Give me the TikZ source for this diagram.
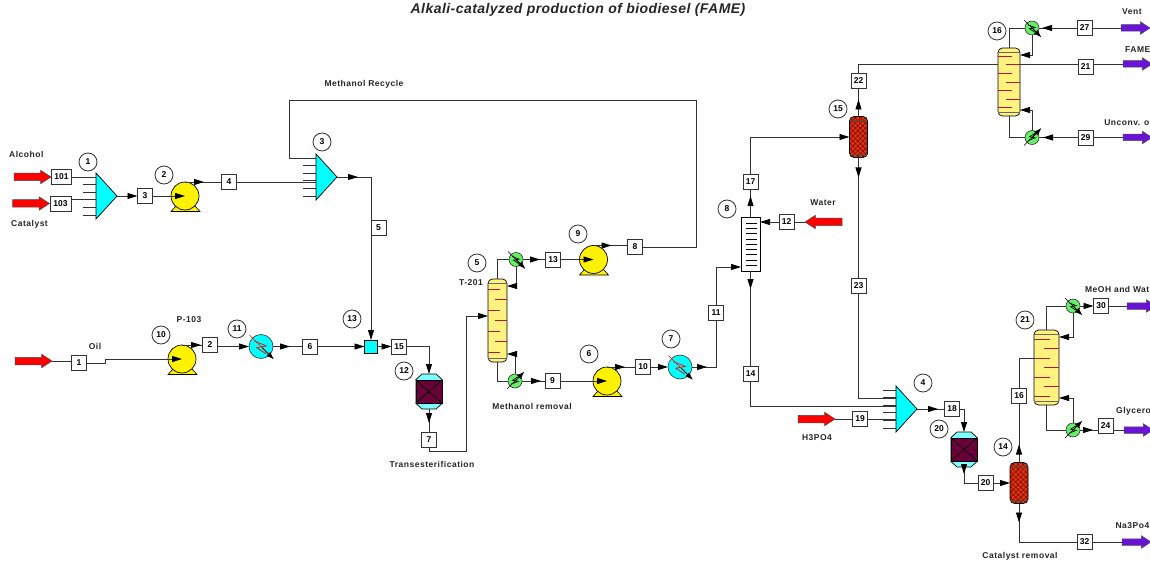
\documentclass[tikz,border=0pt]{standalone}
\usepackage{fontspec}
\setmainfont{Liberation Sans}
\usetikzlibrary{positioning,arrows.meta,shapes.geometric,shapes.arrows,patterns.meta,decorations.markings}

\definecolor{pipegray}{HTML}{333333}
\definecolor{mixcyan}{HTML}{00FFFF}
\definecolor{pumpyellow}{HTML}{FFF200}
\definecolor{towyellow}{HTML}{FFF27F}
\definecolor{hxgreen}{HTML}{66EE66}
\definecolor{rctmaroon}{HTML}{6A003A}
\definecolor{rctcyan}{HTML}{80FFFF}
\definecolor{prodpurple}{HTML}{6A12D8}
\definecolor{packred}{HTML}{D8380A}
\definecolor{trayred}{HTML}{A81E40}

\tikzset{
  pipe/.style={draw=pipegray, line width=0.9pt, >={Triangle[length=10pt,width=6pt,color=black]}},
  tipat/.style={postaction={decorate}, decoration={markings, mark=at position #1 with {\arrow{Triangle[length=10pt,width=6pt,color=black]}}}},
  stream/.style={draw=pipegray, fill=white, line width=0.9pt, minimum size=15pt, inner sep=0pt, outer sep=0pt, font=\bfseries\fontsize{8.5}{10}\selectfont},
  unitno/.style={circle, draw=pipegray, fill=white, line width=0.8pt, minimum size=18pt, inner sep=0pt, font=\bfseries\fontsize{8.5}{10}\selectfont},
  lab/.style={inner sep=0pt, text=black!85, font=\bfseries\fontsize{8.5}{10}\selectfont\addfontfeatures{LetterSpace=6}},
  feedarrow/.style={single arrow, anchor=tip, draw=black!70, fill=red, line width=0.5pt, minimum height=37pt, inner ysep=3.5pt, inner xsep=0pt, single arrow head extend=3pt, single arrow tip angle=66, outer sep=0pt},
  prodarrow/.style={single arrow, anchor=tail, draw=black!70, fill=prodpurple, line width=0.5pt, minimum height=29pt, inner ysep=3pt, inner xsep=0pt, single arrow head extend=3pt, single arrow tip angle=66, outer sep=0pt},
  mixbody/.style={isosceles triangle, isosceles triangle apex angle=95, isosceles triangle stretches, draw=black, fill=mixcyan, line width=0.7pt, minimum width=46pt, minimum height=21pt, inner sep=0pt, outer sep=0pt},
  pumpbody/.style={circle, draw=black, fill=pumpyellow, line width=0.7pt, minimum size=28pt, inner sep=0pt, outer sep=0pt},
  hxbody/.style={circle, draw=black!80, line width=0.6pt, inner sep=0pt, outer sep=0pt},
  towbody/.style={rectangle, rounded corners=4.5pt, draw=black, line width=0.7pt, inner sep=0pt, outer sep=0pt},
}

% mixer: name, apex x, y
\newcommand{\mixerunit}[3]{
  \foreach \dy in {-19,-12,-4,3,11,19}
    \draw[draw=pipegray, line width=0.7pt] (#2-34,#3+\dy) -- (#2-21,#3+\dy);
  \node[mixbody, anchor=apex] (#1) at (#2,#3) {};
}
% pump: name, x, y
\newcommand{\pumpunit}[3]{
  \draw[fill=pumpyellow, line width=0.6pt] (#2-14,#3+15.5) -- (#2+15,#3+15.5) -- (#2+10,#3+10) -- (#2-9,#3+10) -- cycle;
  \node[pumpbody] (#1) at (#2,#3) {};
}
% exchanger: name, x, y, fill, line colour, yscale, radius
\newcommand{\hxunit}[7]{
  \node[hxbody, fill=#4, minimum size=2*#7 pt] (#1) at (#2,#3) {};
  \begin{scope}[shift={(#2,#3)}, yscale=#6]
    \draw[#5, line width=0.7pt] (-0.55*#7,-0.45*#7) -- (0.45*#7,-0.05*#7) -- (-0.35*#7,0.1*#7) -- (0.4*#7,0.6*#7);
    \draw[#5, line width=0.6pt] (-0.7*#7-3,-0.7*#7-3) -- (0.7*#7+4,0.7*#7+4);
    \draw[black, line width=0.7pt, -{Triangle[length=7pt,width=5pt]}] (0.1*#7,0.1*#7) -- (0.7*#7+4,0.7*#7+4);
  \end{scope}
}
% tray column: name, x, y, width, height
\newcommand{\towerunit}[5]{
  \node[towbody, fill=towyellow, minimum width=#4 pt, minimum height=#5 pt] (#1) at (#2,#3) {};
  \draw[black!60, line width=0.5pt] (#2-#4/2,#3-#5/2+4) -- (#2+#4/2,#3-#5/2+4);
  \draw[black!60, line width=0.5pt] (#2-#4/2,#3+#5/2-4) -- (#2+#4/2,#3+#5/2-4);
  \foreach \i in {0,2,4,6}
    \draw[trayred, line width=0.8pt] (#2-#4/2,#3-0.38*#5+\i*0.1265*#5) -- (#2+0.13*#4,#3-0.38*#5+\i*0.1265*#5);
  \foreach \i in {1,3,5}
    \draw[trayred, line width=0.8pt] (#2-0.12*#4,#3-0.38*#5+\i*0.1265*#5) -- (#2+#4/2,#3-0.38*#5+\i*0.1265*#5);
}
% packed vessel: name, x, y
\newcommand{\packunit}[3]{
  \node[towbody, preaction={fill=packred}, pattern={Hatch[angle=45,distance=3.6pt,line width=0.6pt]}, pattern color=red!55!black, minimum width=18pt, minimum height=41pt] (#1) at (#2,#3) {};
  \draw[black!70, line width=0.5pt] (#2-9,#3-17) -- (#2+9,#3-17);
  \draw[black!70, line width=0.5pt] (#2-9,#3+17) -- (#2+9,#3+17);
}
% reactor: name, x, y
\newcommand{\reactorunit}[3]{
  \draw[fill=rctcyan, line width=0.7pt] (#2-13,#3-12) -- (#2-7,#3-17.5) -- (#2+7,#3-17.5) -- (#2+13,#3-12) -- (#2+13,#3+12) -- (#2+7,#3+17.5) -- (#2-7,#3+17.5) -- (#2-13,#3+12) -- cycle;
  \node[rectangle, minimum width=26pt, minimum height=35pt, inner sep=0pt, outer sep=0pt] (#1) at (#2,#3) {};
  \node[rectangle, draw=black, fill=rctmaroon, line width=0.7pt, minimum width=26pt, minimum height=23pt, inner sep=0pt] (#1in) at (#2,#3) {};
  \draw[black, line width=0.7pt] (#1in.north west) -- (#1in.south east);
  \draw[black, line width=0.7pt] (#1in.north east) -- (#1in.south west);
}

\begin{document}
\begin{tikzpicture}[x=1pt, y=-1pt]
    \clip (0,0) rectangle (1150,561);
    \useasboundingbox (0,0) rectangle (1150,561);

    \node[lab, anchor=base, font=\bfseries\itshape\fontsize{14}{16}\selectfont\addfontfeatures{LetterSpace=3.2}] (title) at (578,13.5) {Alkali-catalyzed production of biodiesel (FAME)};

    % equipment
    \mixerunit{mix1}{117}{196}
    \mixerunit{mix3}{337}{177}
    \mixerunit{mix4}{917}{409}
    \pumpunit{pump2}{185}{196}
    \pumpunit{pump10}{182}{359}
    \pumpunit{pump9}{593.5}{259.5}
    \pumpunit{pump6}{607}{381}
    \hxunit{hx11}{261}{346.5}{mixcyan}{red}{1}{12}
    \hxunit{hx7}{680}{367}{mixcyan}{red}{1}{12}
    \hxunit{cond5}{516}{259.5}{hxgreen}{black}{1}{7}
    \hxunit{reb5}{515}{381}{hxgreen}{black}{-1}{7}
    \hxunit{cond16}{1032}{28}{hxgreen}{black}{1}{7}
    \hxunit{reb16}{1032}{137.5}{hxgreen}{black}{-1}{7}
    \hxunit{cond21}{1073}{306}{hxgreen}{black}{1}{7}
    \hxunit{reb21}{1073}{430}{hxgreen}{black}{-1}{7}
    \towerunit{tow5}{497.5}{320.5}{19}{83}
    \towerunit{tow16}{1009}{82}{22}{68}
    \towerunit{tow21}{1046.5}{367.5}{25}{75}
    \packunit{pack15}{858.5}{137}
    \packunit{pack14}{1019}{483}
    \reactorunit{rct12}{429}{391.5}
    \reactorunit{rct20}{964}{449.5}
    \node[rectangle, draw=black, fill=mixcyan, line width=0.7pt, minimum size=13pt, inner sep=0pt, outer sep=0pt] (msq) at (371,346.5) {};
    \node[rectangle, draw=black, fill=white, line width=0.7pt, minimum width=19pt, minimum height=54pt, inner sep=0pt, outer sep=0pt] (wash8) at (750.5,244) {};
    \foreach \ty in {223,228,233.5,239,244,249,254.5,260,265}
      \draw[black, line width=0.7pt] (746,\ty) -- (757,\ty);

    % feeds and products
    \node[feedarrow] (fAlc) at (51,177) {};
    \node[feedarrow] (fCat) at (49.5,203.5) {};
    \node[feedarrow] (fOil) at (52,361) {};
    \node[feedarrow] (fAcid) at (835,419) {};
    \node[feedarrow, shape border rotate=180] (fWat) at (805,222) {};
    \node[prodarrow] (pVent) at (1121,28) {};
    \node[prodarrow] (pFame) at (1123,64) {};
    \node[prodarrow] (pOil) at (1123,137.5) {};
    \node[prodarrow] (pMeoh) at (1127,306) {};
    \node[prodarrow] (pGly) at (1124,430) {};
    \node[prodarrow] (pSalt) at (1122,542) {};

    % stream tags
    \node[stream, minimum width=20pt] (s101) at (61.5,177) {101};
    \node[stream, minimum width=21pt] (s103) at (60.5,203.5) {103};
    \node[stream] (s3) at (145,196) {3};
    \node[stream] (s4) at (229,182) {4};
    \node[stream] (s5) at (378.5,228) {5};
    \node[stream] (s1) at (79,363) {1};
    \node[stream] (s2) at (210,345) {2};
    \node[stream] (s6) at (310,346.5) {6};
    \node[stream] (s15) at (399,346.5) {15};
    \node[stream] (s7) at (429,440) {7};
    \node[stream] (s13) at (553,259.5) {13};
    \node[stream] (s8) at (635,247) {8};
    \node[stream] (s9) at (552.5,381) {9};
    \node[stream] (s10) at (643,367) {10};
    \node[stream] (s11) at (716,313) {11};
    \node[stream] (s12) at (786.5,222) {12};
    \node[stream] (s17) at (750.5,182) {17};
    \node[stream] (s14) at (750.5,374) {14};
    \node[stream] (s22) at (858.5,81) {22};
    \node[stream] (s23) at (858.5,286) {23};
    \node[stream] (s19) at (860,419) {19};
    \node[stream] (s18) at (952,409) {18};
    \node[stream] (s20) at (985.5,483) {20};
    \node[stream] (s16) at (1019,396) {16};
    \node[stream] (s27) at (1084.5,28) {27};
    \node[stream] (s21) at (1085.5,66.5) {21};
    \node[stream] (s29) at (1085.5,137.5) {29};
    \node[stream] (s30) at (1101,306) {30};
    \node[stream] (s24) at (1105.5,426) {24};
    \node[stream] (s32) at (1084.5,542) {32};

    % unit numbers
    \node[unitno] (u1) at (88,162) {1};
    \node[unitno] (u2) at (164,175) {2};
    \node[unitno] (u3) at (322,142) {3};
    \node[unitno] (u4) at (923,383) {4};
    \node[unitno] (u5) at (477,263) {5};
    \node[unitno] (u6) at (589,354) {6};
    \node[unitno] (u7) at (671,339) {7};
    \node[unitno] (u8) at (727,209) {8};
    \node[unitno] (u9) at (578,234) {9};
    \node[unitno] (u10) at (161,335) {10};
    \node[unitno] (u11) at (237,329) {11};
    \node[unitno] (u12) at (404,371) {12};
    \node[unitno] (u13) at (352,319) {13};
    \node[unitno] (u14) at (1003,447) {14};
    \node[unitno] (u15) at (838,109) {15};
    \node[unitno] (u16) at (997,31) {16};
    \node[unitno] (u20) at (939,429) {20};
    \node[unitno] (u21) at (1025,320) {21};

    % labels
    \node[lab, anchor=west] (lAlc) at (9,154) {Alcohol};
    \node[lab, anchor=west] (lCat) at (11,224) {Catalyst};
    \node[lab] (lOil) at (95,346) {Oil};
    \node[lab] (lP103) at (189,320) {P-103};
    \node[lab] (lRec) at (364,84) {Methanol Recycle};
    \node[lab] (lT201) at (471,283) {T-201};
    \node[lab] (lTrans) at (432,464) {Transesterification};
    \node[lab] (lMeR) at (532,406) {Methanol removal};
    \node[lab] (lWat) at (823,203) {Water};
    \node[lab] (lAcid) at (817,438) {H3PO4};
    \node[lab] (lCatR) at (1020,556) {Catalyst removal};
    \node[lab, anchor=west] (lVent) at (1122,12) {Vent};
    \node[lab, anchor=west] (lFame) at (1125,50) {FAME};
    \node[lab, anchor=east] (lUnc) at (1149.5,123) {Unconv. o};
    \node[lab, anchor=east] (lMeoh) at (1149.5,289) {MeOH and Wat};
    \node[lab, anchor=west] (lGly) at (1116,411) {Glycero};
    \node[lab, anchor=east] (lSalt) at (1149.5,526) {Na3Po4};

    % connectors, upper left
    \draw[pipe] (s101.east) -- (mix1.west |- s101);
    \draw[pipe] ([yshift=4pt]s103.east) -- +(25,0);
    \draw[pipe] (fAlc.tip) -- (s101.west);
    \draw[pipe] (fCat.tip) -- (s103.west);
    \draw[pipe,->] (mix1.apex) -- (s3.west);
    \draw[pipe,->] (s3.east) -- (pump2.center);
    \draw[pipe,tipat=19pt] (pump2.north) -- (s4.west |- pump2.north);
    \draw[pipe] (s4.east) -- (mix3.west |- s4);
    \draw[pipe,tipat=21pt] (mix3.apex) -| (s5.north west);
    \draw[pipe,->] (s5.south west) -- (msq.north);
    \coordinate (recA) at (696,100);
    \coordinate (recB) at (289,100);
    \draw[pipe,tipat=18pt] (pump9.north) -- (s8.west |- pump9.north);
    \draw[pipe] (s8.east) -| (recA) -- (recB) -- ++(0,58) -- ++(26,0);

    % connectors, oil and reaction
    \draw[pipe] (fOil.tip) -- (s1.west |- fOil);
    \draw[pipe,->] (s1.east) -- ++(19,0) -- ++(0,-4) -- (pump10.center);
    \draw[pipe,tipat=19pt] (pump10.north) -- (s2.west |- pump10.north);
    \draw[pipe,->] (s2.east |- hx11) -- (hx11.west);
    \draw[pipe,tipat=17pt] (hx11.east) -- (s6.west);
    \draw[pipe,->] (s6.east) -- (msq.west);
    \draw[pipe,->] (msq.east) -- (s15.west);
    \draw[pipe,->] (s15.east) -| (rct12.north);
    \draw[pipe,tipat=14pt] (rct12.south) -- (s7.north);
    \draw[pipe,->] (s7.south) |- ++(37,4) |- (tow5.west |- 0,316);

    % connectors, first column
    \draw[pipe] (tow5.north) |- (cond5.west);
    \draw[pipe,tipat=17pt] (cond5.east) -- (s13.west);
    \draw[pipe,->] (s13.east) -- (pump9.center);
    \draw[pipe,->] (cond5.south) |- (tow5.east |- 0,286);
    \draw[pipe] (tow5.south) |- (reb5.west);
    \draw[pipe,->] (reb5.north) |- (tow5.east |- 0,354);
    \draw[pipe,tipat=19pt] (reb5.east) -- (s9.west);
    \draw[pipe,->] (s9.east) -- (pump6.center);
    \draw[pipe,tipat=18pt] (pump6.north) -- (s10.west);
    \draw[pipe,->] (s10.east) -- (hx7.west);
    \draw[pipe,tipat=15pt] (hx7.east) -| (s11.south);
    \draw[pipe,->] (s11.north) |- (wash8.west |- 0,267);

    % connectors, wash and acid
    \draw[pipe] (fWat.tip) -- (s12.east);
    \draw[pipe,->] (s12.west) -- (wash8.east |- s12);
    \draw[pipe,tipat=21pt] (wash8.north) -- (s17.south);
    \draw[pipe,->] (s17.north) |- (pack15.west);
    \draw[pipe,tipat=17pt] (pack15.north) -- (s22.south);
    \draw[pipe] (s22.north) |- (tow16.west |- 0,64);
    \draw[pipe,tipat=20pt] (pack15.south) -- (s23.north);
    \draw[pipe] (s23.south) |- (mix4.west |- 0,398);
    \draw[pipe,tipat=18pt] (wash8.south) -- (s14.north);
    \draw[pipe] (s14.south) |- (mix4.west |- 0,406);
    \draw[pipe] (fAcid.tip) -- (s19.west);
    \draw[pipe] (s19.east) -- (mix4.west |- s19);
    \draw[pipe,tipat=21pt] (mix4.apex) -- (s18.west);
    \draw[pipe,->] (s18.east) -| (rct20.north);
    \draw[pipe,tipat=7pt] (rct20.south) |- (s20.west);
    \draw[pipe,->] (s20.east) -- (pack14.west);
    \draw[pipe,tipat=18pt] (pack14.north) -- (s16.south);
    \draw[pipe] (s16.north) |- (tow21.west |- 0,358);
    \draw[pipe,tipat=19pt] (pack14.south) |- (s32.west);
    \draw[pipe] (s32.east) -- (pSalt.tail);

    % connectors, right columns
    \draw[pipe] (tow16.north) |- (cond16.west);
    \draw[pipe,tipat=35pt] (s27.west) -- (cond16.east);
    \draw[pipe] (s27.east) -- (pVent.tail);
    \draw[pipe,->] (cond16.south) |- (tow16.east |- 0,55);
    \draw[pipe] (tow16.east |- 0,64) -- (s21.west |- 0,64);
    \draw[pipe] (s21.east |- 0,64) -- (pFame.tail);
    \draw[pipe] (tow16.south) |- (reb16.west);
    \draw[pipe,->] (reb16.north) |- (tow16.east |- 0,110);
    \draw[pipe,tipat=35pt] (s29.west) -- (reb16.east);
    \draw[pipe] (s29.east) -- (pOil.tail);
    \draw[pipe] (tow21.north) |- (cond21.west);
    \draw[pipe,->] (cond21.east) -- (s30.west);
    \draw[pipe] (s30.east) -- (pMeoh.tail);
    \draw[pipe,->] (cond21.south) |- (tow21.east |- 0,337);
    \draw[pipe] (tow21.south) |- (reb21.west);
    \draw[pipe,->] (reb21.north) |- (tow21.east |- 0,398);
    \draw[pipe,tipat=13pt] (reb21.east) -- (s24.west |- reb21);
    \draw[pipe] (s24.east |- reb21) -- (pGly.tail);
\end{tikzpicture}
\end{document}
